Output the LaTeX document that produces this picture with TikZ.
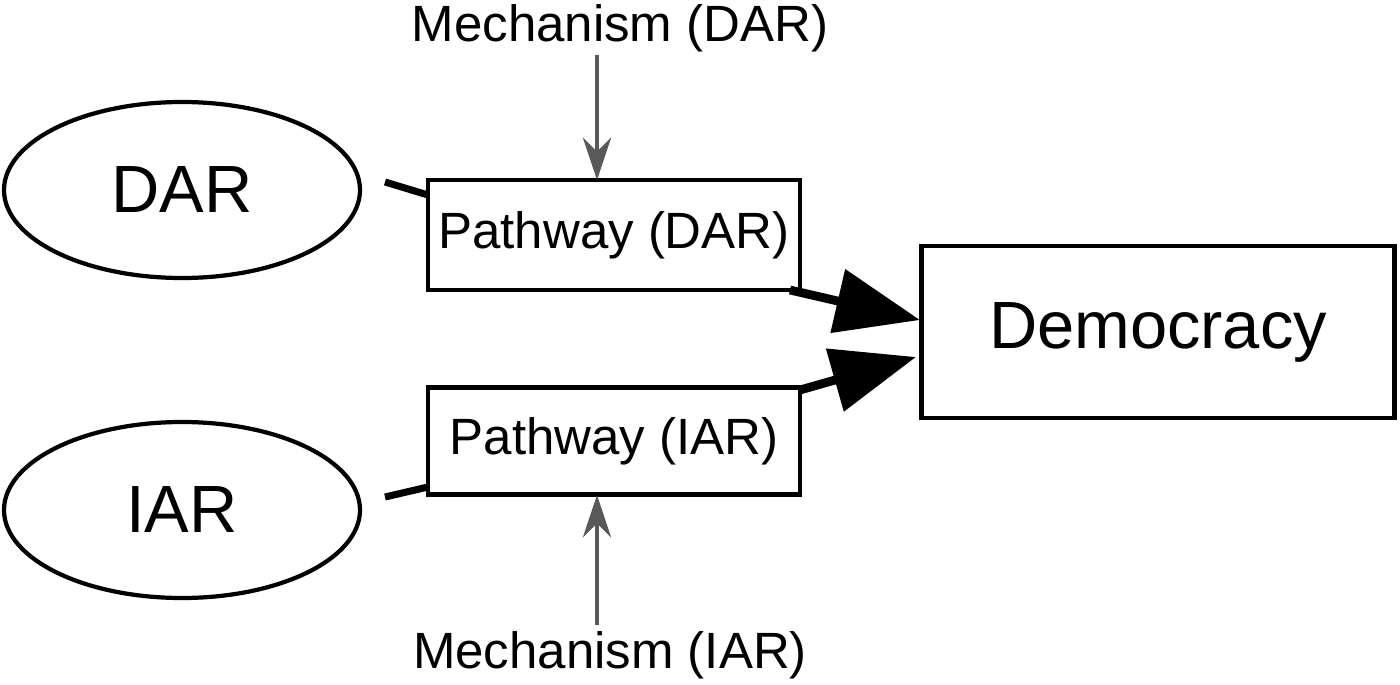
\documentclass[tikz,border=0pt]{standalone}
\usepackage{fontspec}
\setmainfont{Liberation Sans}
\usetikzlibrary{arrows.meta,shapes.geometric}
\begin{document}
\begin{tikzpicture}[x=0.01cm,y=-0.01cm,
  box/.style={draw,line width=1.2pt,inner sep=0pt},
  ell/.style={draw,ellipse,line width=1.2pt,inner sep=0pt},
  big/.style={font=\fontsize{19}{22}\selectfont},
  small/.style={font=\fontsize{14.5}{17}\selectfont},
  mech/.style={gray!70!black,line width=1.2pt,-{Stealth[length=12pt,width=8pt]}},
  thick arr/.style={line width=2.5pt,-{Stealth[length=24pt,width=18pt,inset=0pt]}}]
\useasboundingbox (0,0) rectangle (1400,685);
\node[ell,big,minimum width=356*0.01cm,minimum height=176*0.01cm] (dar) at (182,190) {DAR};
\node[ell,big,minimum width=356*0.01cm,minimum height=176*0.01cm] (iar) at (182,510) {IAR};
\node[box,small,minimum width=372*0.01cm,minimum height=110*0.01cm] (pd) at (614,235) {Pathway (DAR)};
\node[box,small,minimum width=372*0.01cm,minimum height=107*0.01cm] (pi) at (614,441) {Pathway (IAR)};
\node[box,big,minimum width=473*0.01cm,minimum height=172*0.01cm] (dem) at (1158,332) {Democracy};
\node[small] (md) at (620,28) {Mechanism (DAR)};
\node[small] (mi) at (610,655) {Mechanism (IAR)};
\coordinate (a1) at (597,55); \coordinate (a1e) at (597,180);
\coordinate (a2) at (597,625); \coordinate (a2e) at (597,495);
\draw[mech] (a1) -- (a1e);
\draw[mech] (a2) -- (a2e);
\coordinate (d1) at (385,182); \coordinate (d2) at (428,195);
\coordinate (i1) at (385,497); \coordinate (i2) at (428,487);
\draw[line width=2pt] (d1) -- (d2);
\draw[line width=2pt] (i1) -- (i2);
\coordinate (p1) at (790,290); \coordinate (p1e) at (920,320);
\coordinate (p2) at (800,390); \coordinate (p2e) at (916,357);
\draw[thick arr] (p1) -- (p1e);
\draw[thick arr] (p2) -- (p2e);
\end{tikzpicture}
\end{document}
